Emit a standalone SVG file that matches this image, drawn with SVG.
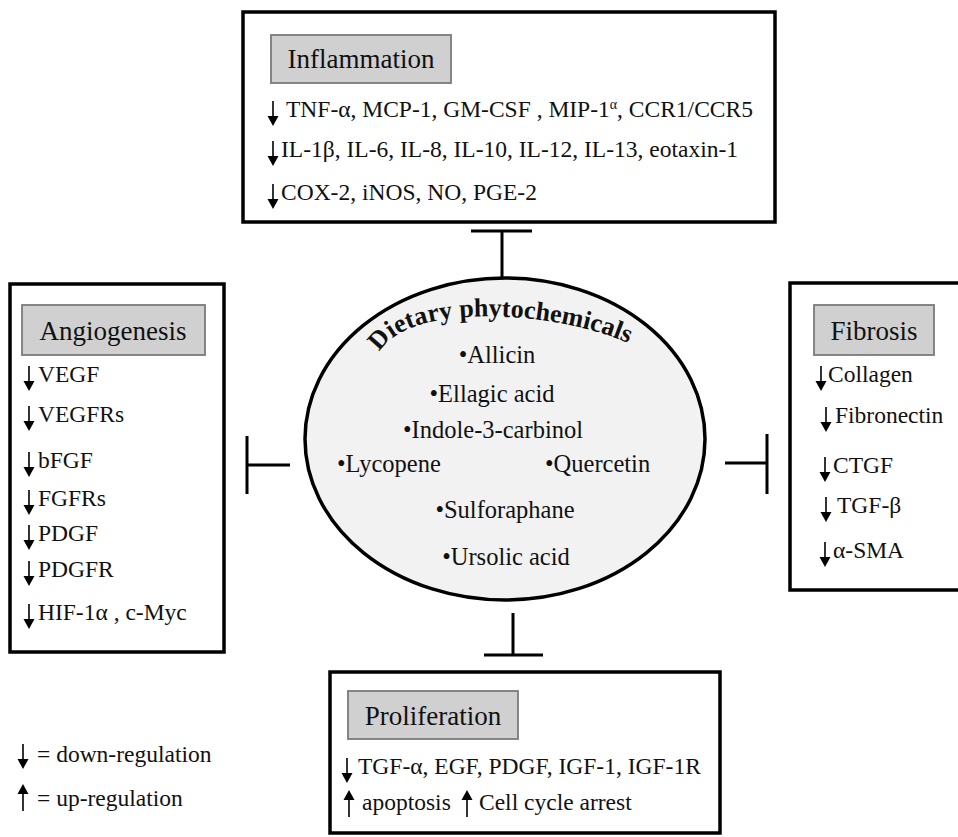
<svg xmlns="http://www.w3.org/2000/svg" xmlns:xlink="http://www.w3.org/1999/xlink" width="958" height="837" viewBox="0 0 958 837">
<style>
text{font-family:"Liberation Serif","Times New Roman",serif;fill:#111}
.it{font-size:23.5px}
.hd{font-size:27px;text-anchor:middle}
.el{font-size:24.5px;text-anchor:middle}
.box{fill:#fff;stroke:#000;stroke-width:3.5}
.lab{fill:#d0d0d0;stroke:#7a7a7a;stroke-width:1.8}
.con line{stroke:#000;stroke-width:3}
</style>
<defs>
<g id="dn"><line x1="0" y1="-16" x2="0" y2="0" stroke="#000" stroke-width="1.6"/><polygon points="-5.5,-1 5.5,-1 0,9" fill="#000"/></g>
<g id="up"><line x1="0" y1="-11" x2="0" y2="7" stroke="#000" stroke-width="1.6"/><polygon points="-5.5,-10 5.5,-10 0,-20" fill="#000"/></g>
<path id="arc" d="M 378,356 C 400,300 560,310 632,345" fill="none"/>
</defs>
<rect width="958" height="837" fill="#fff"/>

<g id="connectors" class="con">
<line x1="471" y1="231" x2="532" y2="231"/>
<line x1="502" y1="231" x2="502" y2="279"/>
<line x1="247" y1="436" x2="247" y2="494"/>
<line x1="247" y1="465" x2="290" y2="465"/>
<line x1="767" y1="434" x2="767" y2="494"/>
<line x1="725" y1="463" x2="767" y2="463"/>
<line x1="513" y1="613" x2="513" y2="655"/>
<line x1="484" y1="655" x2="543" y2="655"/>
</g>

<g id="center">
<ellipse cx="505" cy="439" rx="200" ry="161" fill="#f2f2f2" stroke="#000" stroke-width="3.5"/>
<text font-size="26" font-weight="bold"><textPath href="#arc" xlink:href="#arc" startOffset="50%" text-anchor="middle">Dietary phytochemicals</textPath></text>
<text class="el" x="497" y="363">•Allicin</text>
<text class="el" x="492" y="402">•Ellagic acid</text>
<text class="el" x="493" y="438">•Indole-3-carbinol</text>
<text class="el" x="337" y="472" style="text-anchor:start">•Lycopene</text>
<text class="el" x="545" y="472" style="text-anchor:start">•Quercetin</text>
<text class="el" x="505" y="518">•Sulforaphane</text>
<text class="el" x="506" y="565">•Ursolic acid</text>
</g>

<g id="inflammation">
<rect class="box" x="243" y="12" width="532" height="210"/>
<rect class="lab" x="271" y="35" width="180" height="48"/>
<text class="hd" x="361" y="68">Inflammation</text>
<use href="#dn" xlink:href="#dn" x="273" y="117"/>
<text class="it" x="286" y="117">TNF-α, MCP-1, GM-CSF , MIP-1<tspan font-size="14" dy="-8">α</tspan><tspan dy="8">, CCR1/CCR5</tspan></text>
<use href="#dn" xlink:href="#dn" x="273" y="157"/>
<text class="it" x="281" y="157">IL-1β, IL-6, IL-8, IL-10, IL-12, IL-13, eotaxin-1</text>
<use href="#dn" xlink:href="#dn" x="273" y="200"/>
<text class="it" x="281" y="200">COX-2, iNOS, NO, PGE-2</text>
</g>

<g id="angiogenesis">
<rect class="box" x="10" y="284" width="214" height="368"/>
<rect class="lab" x="22" y="305" width="183" height="50"/>
<text class="hd" x="113" y="340">Angiogenesis</text>
<use href="#dn" xlink:href="#dn" x="29" y="382"/><text class="it" x="38" y="382">VEGF</text>
<use href="#dn" xlink:href="#dn" x="29" y="422"/><text class="it" x="38" y="422">VEGFRs</text>
<use href="#dn" xlink:href="#dn" x="29" y="468"/><text class="it" x="38" y="468">bFGF</text>
<use href="#dn" xlink:href="#dn" x="29" y="506"/><text class="it" x="38" y="506">FGFRs</text>
<use href="#dn" xlink:href="#dn" x="29" y="541"/><text class="it" x="38" y="541">PDGF</text>
<use href="#dn" xlink:href="#dn" x="29" y="577"/><text class="it" x="38" y="577">PDGFR</text>
<use href="#dn" xlink:href="#dn" x="29" y="620"/><text class="it" x="38" y="620">HIF-1α , c-Myc</text>
</g>

<g id="fibrosis">
<rect class="box" x="790" y="283" width="180" height="307"/>
<rect class="lab" x="814" y="305" width="120" height="50"/>
<text class="hd" x="874" y="340">Fibrosis</text>
<use href="#dn" xlink:href="#dn" x="821" y="382"/><text class="it" x="828" y="382">Collagen</text>
<use href="#dn" xlink:href="#dn" x="826" y="423"/><text class="it" x="835" y="423">Fibronectin</text>
<use href="#dn" xlink:href="#dn" x="825" y="473"/><text class="it" x="833" y="473">CTGF</text>
<use href="#dn" xlink:href="#dn" x="826" y="513"/><text class="it" x="837" y="513">TGF-β</text>
<use href="#dn" xlink:href="#dn" x="825" y="558"/><text class="it" x="833" y="558">α-SMA</text>
</g>

<g id="proliferation">
<rect class="box" x="330" y="672" width="390" height="161"/>
<rect class="lab" x="348" y="691" width="170" height="48"/>
<text class="hd" x="433" y="725">Proliferation</text>
<use href="#dn" xlink:href="#dn" x="347" y="774"/>
<text class="it" x="358" y="774">TGF-α, EGF, PDGF, IGF-1, IGF-1R</text>
<use href="#up" xlink:href="#up" x="349" y="810"/>
<text class="it" x="362" y="810">apoptosis</text>
<use href="#up" xlink:href="#up" x="467" y="810"/>
<text class="it" x="479" y="810">Cell cycle arrest</text>
</g>

<g id="legend">
<use href="#dn" xlink:href="#dn" x="23" y="760"/>
<text class="it" x="37" y="762">= down-regulation</text>
<use href="#up" xlink:href="#up" x="23" y="804"/>
<text class="it" x="37" y="806">= up-regulation</text>
</g>
</svg>
